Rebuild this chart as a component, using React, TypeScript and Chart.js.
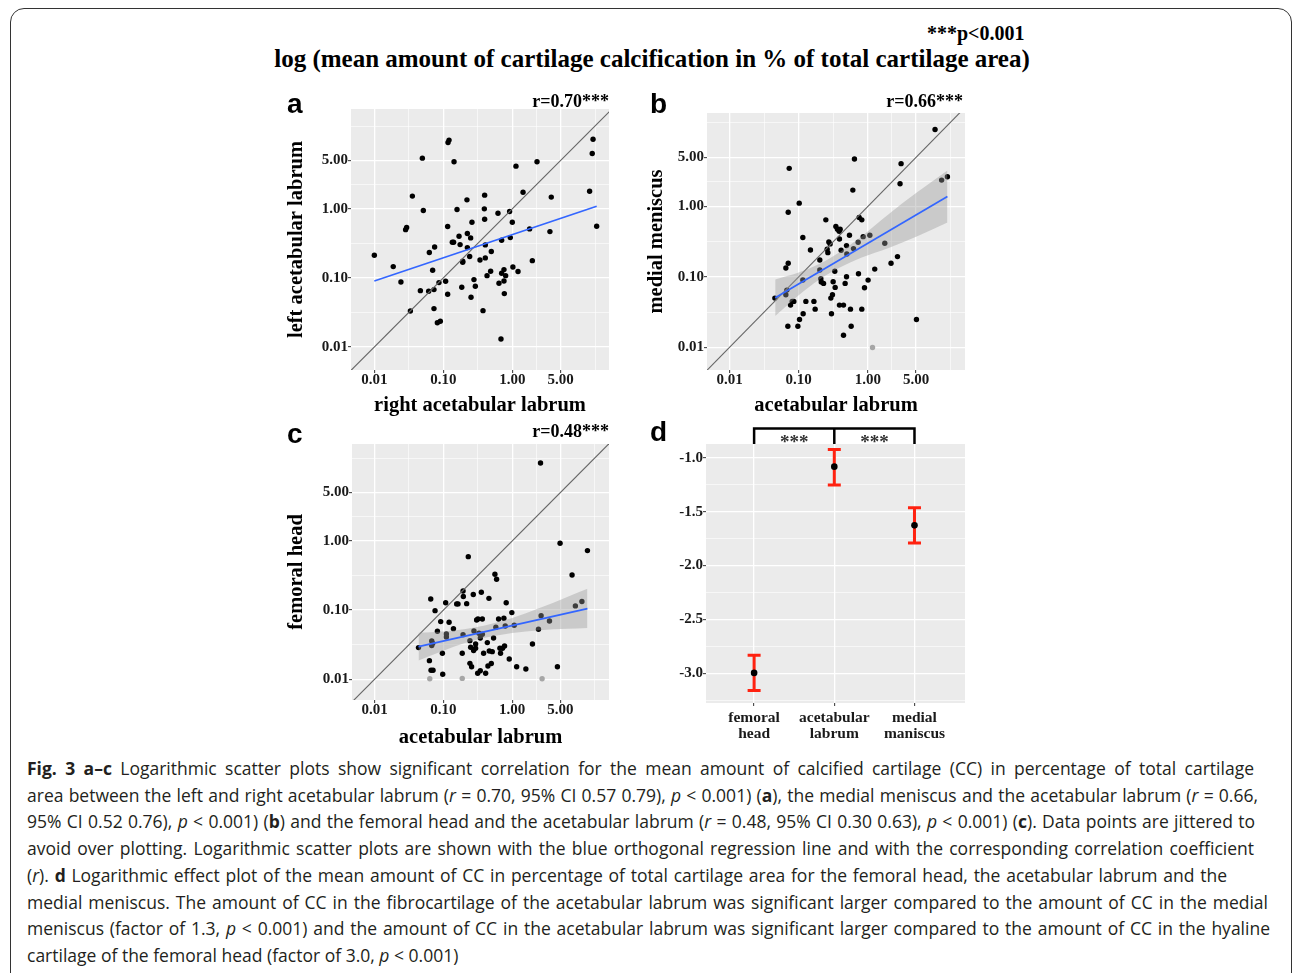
import React, { useEffect, useRef } from "react";
import { Chart, registerables } from "chart.js";

Chart.register(...registerables);

const SERIF = '"Liberation Serif", "Times New Roman", Times, serif';
const SANS = '"Liberation Sans", Arial, Helvetica, sans-serif';
const CAPTION_FONT = '"Open Sans", "Noto Sans", sans-serif';

// ---------- Panel a: left vs right acetabular labrum ----------
const aRightLabrum = [
  0.010, 0.0188, 0.0243, 0.0333, 0.0284, 0.0294, 0.0356, 0.0497, 0.0513, 0.0465,
  0.0627, 0.0613, 0.070, 0.0748, 0.0732, 0.0732, 0.0819, 0.0905, 0.0865, 0.108,
  0.1156, 0.1156, 0.117, 0.121, 0.143, 0.135, 0.141, 0.158, 0.169, 0.175,
  0.185, 0.191, 0.191, 0.220, 0.223, 0.223, 0.241, 0.249, 0.252, 0.260,
  0.278, 0.291, 0.340, 0.376, 0.393, 0.397, 0.397, 0.406, 0.406, 0.430,
  0.485, 0.496, 0.620, 0.641, 0.685, 0.700, 0.700, 0.757, 0.757, 0.766,
  0.80, 0.914, 0.935, 1.0, 1.02, 1.13, 1.21, 1.43, 1.78, 1.95,
  2.28, 3.51, 3.67, 13.2, 14.4, 14.8, 16.7,
];
const aLeftLabrum = [
  0.213, 0.146, 0.0875, 0.0333, 0.50, 0.536, 1.53, 5.42, 0.946, 0.0655,
  0.233, 0.0641, 0.129, 0.281, 0.0678, 0.036, 0.0225, 0.0236, 0.0856, 0.0895,
  0.058, 0.555, 9.15, 9.9, 4.80, 0.329, 0.329, 0.978, 0.402, 0.304,
  0.0733, 0.175, 0.169, 1.35, 0.439, 0.275, 0.204, 0.38, 0.0525, 0.641,
  0.0946, 0.0757, 0.182, 0.0336, 1.0, 1.58, 0.708, 0.301, 0.195, 0.108,
  0.125, 0.241, 0.865, 0.0837, 0.0131, 0.352, 0.117, 0.132, 0.0905, 0.0593,
  0.108, 0.914, 0.384, 0.641, 0.144, 4.15, 0.124, 1.74, 0.513, 0.178,
  4.80, 0.469, 1.48, 1.80, 6.34, 10.2, 0.561,
];
const aGreyX: number[] = [];
const aGreyY: number[] = [];
const aFitX = [0.01, 16.7];
const aFitY = [0.0905, 1.09];

// ---------- Panel b: medial meniscus vs acetabular labrum ----------
const bAcetabular = [
  0.0452, 0.0652, 0.0674, 0.0652, 0.0697, 0.0705, 0.0705, 0.0729, 0.0762, 0.0805,
  0.085, 0.0973, 0.1017, 0.1028, 0.1148, 0.1148, 0.116, 0.127, 0.148, 0.166,
  0.173, 0.202, 0.202, 0.209, 0.212, 0.229, 0.247, 0.258, 0.264, 0.273,
  0.285, 0.292, 0.298, 0.308, 0.315, 0.333, 0.337, 0.345, 0.364, 0.385,
  0.389, 0.398, 0.389, 0.411, 0.445, 0.445, 0.470, 0.492, 0.492, 0.497,
  0.543, 0.561, 0.574, 0.607, 0.621, 0.641, 0.725, 0.733, 0.750, 0.819,
  0.819, 0.857, 0.896, 1.01, 1.07, 1.26, 1.76, 2.17, 2.69, 2.93,
  3.03, 5.06, 9.4, 11.7, 14.2,
];
const bMeniscus = [
  0.0499, 0.1336, 0.0649, 0.0557, 0.0199, 0.830, 0.156, 3.48, 0.0397, 0.0448,
  0.0448, 0.0199, 1.116, 0.0248, 0.362, 0.0901, 0.0299, 0.0448, 0.241, 0.0448,
  0.0348, 0.174, 0.125, 0.094, 0.0844, 0.0807, 0.646, 0.247, 0.221, 0.313,
  0.294, 0.0499, 0.0299, 0.0557, 0.0853, 0.120, 0.0708, 0.519, 0.475, 0.445,
  0.346, 0.475, 0.0397, 0.239, 0.0397, 0.0148, 0.0807, 0.278, 0.1005, 0.211,
  0.390, 0.0348, 0.0199, 1.71, 0.252, 4.73, 0.310, 0.111, 0.697, 0.646,
  0.0348, 0.373, 0.0701, 0.090, 0.39, 0.129, 0.300, 0.156, 0.194, 2.10,
  4.06, 0.0248, 12.4, 2.37, 2.65,
];
const bGreyX = [1.17];
const bGreyY = [0.0099];
const bFitX = [0.0457, 14.2];
const bFitY = [0.0506, 1.39];
const bBandX = [0.0457, 0.1, 0.2, 0.4, 0.8, 2.0, 5.0, 14.2];
const bBandUpper = [0.092, 0.115, 0.153, 0.228, 0.372, 0.778, 1.55, 3.25];
const bBandLower = [0.0278, 0.055, 0.092, 0.137, 0.187, 0.258, 0.372, 0.592];

// ---------- Panel c: femoral head vs acetabular labrum ----------
const cAcetabular = [
  0.0435, 0.0627, 0.0655, 0.0662, 0.0708, 0.0677, 0.070, 0.0677, 0.0757, 0.0819,
  0.0914, 0.0967, 0.0978, 0.108, 0.1105, 0.1105, 0.121, 0.140, 0.156, 0.163,
  0.188, 0.193, 0.195, 0.193, 0.218, 0.230, 0.243, 0.243, 0.249, 0.257,
  0.272, 0.275, 0.278, 0.294, 0.294, 0.304, 0.315, 0.318, 0.329, 0.344,
  0.344, 0.356, 0.368, 0.368, 0.384, 0.411, 0.435, 0.444, 0.459, 0.464,
  0.497, 0.513, 0.536, 0.561, 0.579, 0.593, 0.634, 0.663, 0.677, 0.724,
  0.774, 0.818, 0.757, 0.792, 0.906, 0.988, 1.07, 1.16, 1.58, 1.97,
  2.41, 2.58, 2.63, 3.48, 4.54, 4.96, 7.41, 8.28, 10.3, 12.4,
];
const cFemoral = [
  0.0287, 0.0186, 0.145, 0.0135, 0.0135, 0.0358, 0.0331, 0.0307, 0.0983, 0.0494,
  0.0682, 0.0238, 0.0118, 0.128, 0.0452, 0.0409, 0.0667, 0.054, 0.123, 0.123,
  0.0238, 0.189, 0.157, 0.0442, 0.124, 0.593, 0.0362, 0.0170, 0.029, 0.0152,
  0.168, 0.0260, 0.050, 0.0324, 0.0281, 0.0721, 0.0122, 0.0745, 0.0462, 0.0133,
  0.0396, 0.181, 0.0745, 0.0447, 0.0238, 0.0122, 0.0339, 0.0156, 0.148, 0.0257,
  0.0169, 0.0251, 0.0396, 0.330, 0.0565, 0.279, 0.0745, 0.0281, 0.0238, 0.0281,
  0.0303, 0.128, 0.0762, 0.059, 0.0197, 0.092, 0.0604, 0.0152, 0.0141, 0.0324,
  0.0528, 13.4, 0.0832, 0.0697, 0.0152, 0.925, 0.322, 0.115, 0.133, 0.725,
];
const cGreyX = [0.0634, 0.188, 2.72];
const cGreyY = [0.0102, 0.0103, 0.0102];
const cFitX = [0.0435, 12.4];
const cFitY = [0.0297, 0.105];
const cBandX = [0.0435, 0.1, 0.2, 0.4, 1.0, 2.5, 6.3, 12.4];
const cBandUpper = [0.047, 0.049, 0.053, 0.060, 0.077, 0.107, 0.155, 0.203];
const cBandLower = [0.0187, 0.0259, 0.0332, 0.0397, 0.0467, 0.0512, 0.0536, 0.0552];

// identity (y = x) reference line ends
const identityEnds = [0.001, 100];

// log axis breaks (ggplot major breaks and its minor midpoints)
const logMajorTicks = [0.01, 0.1, 1, 5];
const logMinorTicks = [0.0316, 0.316, 2.236, 15.81];

// ---------- Panel d: effect plot ----------
const dSites = [["femoral", "head"], ["acetabular", "labrum"], ["medial", "maniscus"]];
const dMean = [-2.994, -1.083, -1.627];
const dUpper = [-2.83, -0.923, -1.463];
const dLower = [-3.158, -1.253, -1.79];
const dMajorTicks = [-3.0, -2.5, -2.0, -1.5, -1.0];
const dMinorTicks = [-3.25, -2.75, -2.25, -1.75, -1.25];
const dSignificance = ["***", "***"];

const toPoints = (xs: number[], ys: number[]) => xs.map((x, i) => ({ x, y: ys[i] }));

const panelBackground = {
  id: "panelBackground",
  beforeDraw(chart: any) {
    const { ctx, chartArea } = chart;
    ctx.save();
    ctx.fillStyle = "#EBEBEB";
    ctx.fillRect(chartArea.left, chartArea.top, chartArea.right - chartArea.left, chartArea.bottom - chartArea.top);
    ctx.restore();
  },
};

const tickFont = { family: SERIF, weight: "bold" as const, size: 15, lineHeight: 1 };
const titleFont = { family: SERIF, weight: "bold" as const, size: 20.5, lineHeight: 1.2 };

type ScatterPanel = {
  xs: number[]; ys: number[];
  greyXs: number[]; greyYs: number[];
  fitX: number[]; fitY: number[];
  bandX?: number[]; bandUpper?: number[]; bandLower?: number[];
  xMin: number; xMax: number; yMin: number; yMax: number;
  xTitle: string; yTitle: string;
  yAxisWidth: number; xAxisHeight: number; padTop: number; padRight: number;
  yTitlePad: number; xTitlePad: number;
};

const isLogMajor = (v: number) => logMajorTicks.some((m) => Math.abs(Math.log10(v) - Math.log10(m)) < 1e-6);

function logAxis(min: number, max: number, title: string, titlePad: number, horizontal: boolean, size: number) {
  const all = [...logMajorTicks, ...logMinorTicks].sort((a, b) => a - b).filter((v) => v >= min && v <= max);
  return {
    type: "logarithmic",
    position: horizontal ? "bottom" : "left",
    min, max, bounds: "data",
    afterBuildTicks: (s: any) => { s.ticks = all.map((v) => ({ value: v })); },
    afterFit: (s: any) => { if (horizontal) s.height = size; else s.width = size; },
    border: { display: false },
    grid: {
      color: "#FFFFFF",
      lineWidth: (c: any) => (c.tick && isLogMajor(c.tick.value) ? 1.3 : 0.6),
      drawTicks: true,
      tickLength: 3,
      tickWidth: 1,
      tickColor: (c: any) => (c.tick && isLogMajor(c.tick.value) ? "#333333" : "rgba(0,0,0,0)"),
    },
    ticks: {
      autoSkip: false, maxRotation: 0, minRotation: 0, padding: 0,
      color: "#1a1a1a", font: tickFont,
      callback: (v: any) => (isLogMajor(Number(v)) ? Number(v).toFixed(2) : ""),
    },
    title: {
      display: true, text: title, color: "#000000", font: titleFont,
      padding: horizontal ? { top: 0, bottom: titlePad } : { top: titlePad, bottom: 0 },
    },
  };
}

function scatterConfig(p: ScatterPanel): any {
  const datasets: any[] = [
    { type: "line", label: "orthogonal regression", data: toPoints(p.fitX, p.fitY), borderColor: "#3366FF", borderWidth: 1.7, pointRadius: 0, fill: false, order: 0 },
  ];
  if (p.bandX && p.bandUpper && p.bandLower) {
    datasets.push({ type: "line", label: "CI upper", data: toPoints(p.bandX, p.bandUpper), borderWidth: 0, borderColor: "rgba(0,0,0,0)", backgroundColor: "rgba(153,153,153,0.4)", pointRadius: 0, fill: "+1", cubicInterpolationMode: "monotone", order: 1 });
    datasets.push({ type: "line", label: "CI lower", data: toPoints(p.bandX, p.bandLower), borderWidth: 0, borderColor: "rgba(0,0,0,0)", pointRadius: 0, fill: false, cubicInterpolationMode: "monotone", order: 1 });
  }
  datasets.push({ type: "line", label: "identity", data: toPoints(identityEnds, identityEnds), borderColor: "#666666", borderWidth: 1.1, pointRadius: 0, fill: false, order: 2 });
  datasets.push({ type: "scatter", label: "zero", data: toPoints(p.greyXs, p.greyYs), backgroundColor: "#A6A6A6", borderWidth: 0, pointRadius: 2.7, order: 3 });
  datasets.push({ type: "scatter", label: "points", data: toPoints(p.xs, p.ys), backgroundColor: "#000000", borderWidth: 0, pointRadius: 2.7, order: 3 });
  return {
    type: "scatter",
    data: { datasets },
    options: {
      animation: false, responsive: false, devicePixelRatio: 1,
      layout: { padding: { top: p.padTop, right: p.padRight, left: 0, bottom: 0 } },
      plugins: { legend: { display: false }, tooltip: { enabled: false } },
      scales: {
        x: logAxis(p.xMin, p.xMax, p.xTitle, p.xTitlePad, true, p.xAxisHeight),
        y: logAxis(p.yMin, p.yMax, p.yTitle, p.yTitlePad, false, p.yAxisWidth),
      },
    },
    plugins: [panelBackground],
  };
}

const isDMajor = (v: number) => dMajorTicks.some((m) => Math.abs(v - m) < 1e-9);

const errorBars = {
  id: "errorBars",
  beforeDatasetsDraw(chart: any) {
    const { ctx, scales } = chart;
    const x = scales.x, y = scales.y;
    ctx.save();
    ctx.strokeStyle = "#FF2210";
    ctx.lineWidth = 3;
    dMean.forEach((_, i) => {
      const px = x.getPixelForValue(i + 1);
      const top = y.getPixelForValue(dUpper[i]);
      const bot = y.getPixelForValue(dLower[i]);
      ctx.beginPath();
      ctx.moveTo(px, top); ctx.lineTo(px, bot);
      ctx.moveTo(px - 6.5, top); ctx.lineTo(px + 6.5, top);
      ctx.moveTo(px - 6.5, bot); ctx.lineTo(px + 6.5, bot);
      ctx.stroke();
    });
    ctx.restore();
  },
};

const significance = {
  id: "significance",
  afterDraw(chart: any) {
    const { ctx, scales, chartArea } = chart;
    const x = scales.x;
    const x1 = x.getPixelForValue(1), x2 = x.getPixelForValue(2), x3 = x.getPixelForValue(3);
    const yTop = chartArea.top - 15.5;
    ctx.save();
    ctx.strokeStyle = "#000000";
    ctx.lineWidth = 2.5;
    ctx.beginPath();
    ctx.moveTo(x1, chartArea.top); ctx.lineTo(x1, yTop); ctx.lineTo(x3, yTop); ctx.lineTo(x3, chartArea.top);
    ctx.moveTo(x2, yTop); ctx.lineTo(x2, chartArea.top);
    ctx.stroke();
    ctx.fillStyle = "#333333";
    ctx.font = `bold 19px ${SERIF}`;
    ctx.textAlign = "center";
    ctx.textBaseline = "alphabetic";
    ctx.fillText(dSignificance[0], (x1 + x2) / 2, chartArea.top + 3.5);
    ctx.fillText(dSignificance[1], (x2 + x3) / 2, chartArea.top + 3.5);
    ctx.restore();
  },
};

function effectConfig(): any {
  const yTicks = [...dMajorTicks, ...dMinorTicks].sort((a, b) => a - b);
  return {
    type: "scatter",
    data: {
      datasets: [
        { type: "scatter", label: "mean", data: toPoints(dMean.map((_, i) => i + 1), dMean), backgroundColor: "#000000", borderWidth: 0, pointRadius: 3.3 },
      ],
    },
    options: {
      animation: false, responsive: false, devicePixelRatio: 1,
      layout: { padding: { top: 24, right: 11, left: 0, bottom: 0 } },
      plugins: { legend: { display: false }, tooltip: { enabled: false } },
      scales: {
        x: {
          type: "linear", position: "bottom", min: 0.4, max: 3.63, bounds: "data",
          afterBuildTicks: (s: any) => { s.ticks = dSites.map((_, i) => ({ value: i + 1 })); },
          afterFit: (s: any) => { s.height = 47; },
          border: { display: false },
          grid: { color: "#FFFFFF", lineWidth: 1.3, drawTicks: true, tickLength: 3, tickColor: "#333333", tickWidth: 1 },
          ticks: {
            autoSkip: false, maxRotation: 0, minRotation: 0, padding: 4, color: "#1a1a1a",
            font: { family: SERIF, weight: "bold", size: 15.5, lineHeight: 1.03 },
            callback: (v: any) => dSites[Math.round(Number(v)) - 1] || "",
          },
        },
        y: {
          type: "linear", position: "left", min: -3.273, max: -0.873, bounds: "data",
          afterBuildTicks: (s: any) => { s.ticks = yTicks.map((v) => ({ value: v })); },
          afterFit: (s: any) => { s.width = 70; },
          border: { display: false },
          grid: {
            color: "#FFFFFF",
            lineWidth: (c: any) => (c.tick && isDMajor(c.tick.value) ? 1.3 : 0.6),
            drawTicks: true, tickLength: 3, tickWidth: 1,
            tickColor: (c: any) => (c.tick && isDMajor(c.tick.value) ? "#333333" : "rgba(0,0,0,0)"),
          },
          ticks: {
            autoSkip: false, padding: 0, color: "#1a1a1a", font: tickFont,
            callback: (v: any) => (isDMajor(Number(v)) ? Number(v).toFixed(1) : ""),
          },
        },
      },
    },
    plugins: [panelBackground, errorBars, significance],
  };
}

function ChartBox({ left, top, width, height, config }: { left: number; top: number; width: number; height: number; config: () => any }) {
  const ref = useRef<HTMLCanvasElement | null>(null);
  useEffect(() => {
    if (!ref.current) return;
    const chart = new Chart(ref.current, config());
    return () => chart.destroy();
  }, []);
  return <canvas ref={ref} width={width} height={height} style={{ position: "absolute", left, top, width, height }} />;
}

const panelA: ScatterPanel = {
  xs: aRightLabrum, ys: aLeftLabrum, greyXs: aGreyX, greyYs: aGreyY, fitX: aFitX, fitY: aFitY,
  xMin: 0.00459, xMax: 25.2, yMin: 0.00465, yMax: 27.9,
  xTitle: "right acetabular labrum", yTitle: "left acetabular labrum",
  yAxisWidth: 71, xAxisHeight: 48, padTop: 21, padRight: 11, yTitlePad: 4.5, xTitlePad: 0,
};
const panelB: ScatterPanel = {
  xs: bAcetabular, ys: bMeniscus, greyXs: bGreyX, greyYs: bGreyY, fitX: bFitX, fitY: bFitY,
  bandX: bBandX, bandUpper: bBandUpper, bandLower: bBandLower,
  xMin: 0.00471, xMax: 25.5, yMin: 0.00475, yMax: 21.3,
  xTitle: "acetabular labrum", yTitle: "medial meniscus",
  yAxisWidth: 71, xAxisHeight: 48, padTop: 25, padRight: 11, yTitlePad: 8.5, xTitlePad: 0,
};
const panelC: ScatterPanel = {
  xs: cAcetabular, ys: cFemoral, greyXs: cGreyX, greyYs: cGreyY, fitX: cFitX, fitY: cFitY,
  bandX: cBandX, bandUpper: cBandUpper, bandLower: cBandLower,
  xMin: 0.0047, xMax: 25.5, yMin: 0.00502, yMax: 25.2,
  xTitle: "acetabular labrum", yTitle: "femoral head",
  yAxisWidth: 72, xAxisHeight: 50, padTop: 24, padRight: 11, yTitlePad: 4.5, xTitlePad: 0,
};

const abs = (left: number, top: number, extra: React.CSSProperties = {}): React.CSSProperties => ({ position: "absolute", left, top, whiteSpace: "nowrap", ...extra });

const letterStyle: React.CSSProperties = { fontFamily: SANS, fontWeight: 700, fontSize: 28, lineHeight: "28px", color: "#000" };
const rStyle: React.CSSProperties = { fontFamily: SERIF, fontWeight: 700, fontSize: 18, lineHeight: "18px", color: "#000", width: 200, textAlign: "right" };

// caption lines and the width each (ragged, justified) line spans in the figure
const captionWidths = [1227, 1231, 1228, 1227, 1200, 1241, 1243, 0];
const captionLines: React.ReactNode[] = [
  <><b>Fig. 3 a–c</b> Logarithmic scatter plots show significant correlation for the mean amount of calcified cartilage (CC) in percentage of total cartilage</>,
  <>area between the left and right acetabular labrum (<i>r</i> = 0.70, 95% CI 0.57 0.79), <i>p</i> &lt; 0.001) (<b>a</b>), the medial meniscus and the acetabular labrum (<i>r</i> = 0.66,</>,
  <>95% CI 0.52 0.76), <i>p</i> &lt; 0.001) (<b>b</b>) and the femoral head and the acetabular labrum (<i>r</i> = 0.48, 95% CI 0.30 0.63), <i>p</i> &lt; 0.001) (<b>c</b>). Data points are jittered to</>,
  <>avoid over plotting. Logarithmic scatter plots are shown with the blue orthogonal regression line and with the corresponding correlation coefficient</>,
  <>(<i>r</i>). <b>d</b> Logarithmic effect plot of the mean amount of CC in percentage of total cartilage area for the femoral head, the acetabular labrum and the</>,
  <>medial meniscus. The amount of CC in the fibrocartilage of the acetabular labrum was significant larger compared to the amount of CC in the medial</>,
  <>meniscus (factor of 1.3, <i>p</i> &lt; 0.001) and the amount of CC in the acetabular labrum was significant larger compared to the amount of CC in the hyaline</>,
  <>cartilage of the femoral head (factor of 3.0, <i>p</i> &lt; 0.001)</>,
];

export default function App() {
  return (
    <div style={{ position: "absolute", left: 0, top: 0, width: 1292, height: 973, overflow: "hidden", background: "#ffffff" }}>
      <div style={{ position: "absolute", left: 10, top: 8, width: 1282, height: 1020, border: "1.5px solid #333333", borderRadius: 14, boxSizing: "border-box" }} />

      <div style={abs(927, 22.5, { fontFamily: SERIF, fontWeight: 700, fontSize: 20, lineHeight: "20px", color: "#000" })}>***p&lt;0.001</div>
      <div style={abs(152, 46, { width: 1000, textAlign: "center", fontFamily: SERIF, fontWeight: 700, fontSize: 25, lineHeight: "25px", color: "#000" })}>
        log (mean amount of cartilage calcification in % of total cartilage area)
      </div>

      <ChartBox left={280} top={88} width={340} height={330} config={() => scatterConfig(panelA)} />
      <ChartBox left={636} top={88} width={340} height={330} config={() => scatterConfig(panelB)} />
      <ChartBox left={280} top={420} width={340} height={330} config={() => scatterConfig(panelC)} />
      <ChartBox left={636} top={420} width={340} height={330} config={effectConfig} />

      <div style={abs(287, 89.6, letterStyle)}>a</div>
      <div style={abs(650, 89.6, letterStyle)}>b</div>
      <div style={abs(287, 419.6, letterStyle)}>c</div>
      <div style={abs(650, 418, letterStyle)}>d</div>

      <div style={abs(409, 92, rStyle)}>r=0.70***</div>
      <div style={abs(763, 92, rStyle)}>r=0.66***</div>
      <div style={abs(409, 422, rStyle)}>r=0.48***</div>

      <div style={{ position: "absolute", left: 27, top: 755, fontFamily: CAPTION_FONT, fontSize: 17.5, lineHeight: "26.7px", color: "#231f20" }}>
        {captionLines.map((l, i) => (
          <div
            key={i}
            style={
              captionWidths[i] > 0
                ? { width: captionWidths[i], textAlign: "justify", textAlignLast: "justify" }
                : { whiteSpace: "nowrap" }
            }
          >
            {l}
          </div>
        ))}
      </div>
    </div>
  );
}
